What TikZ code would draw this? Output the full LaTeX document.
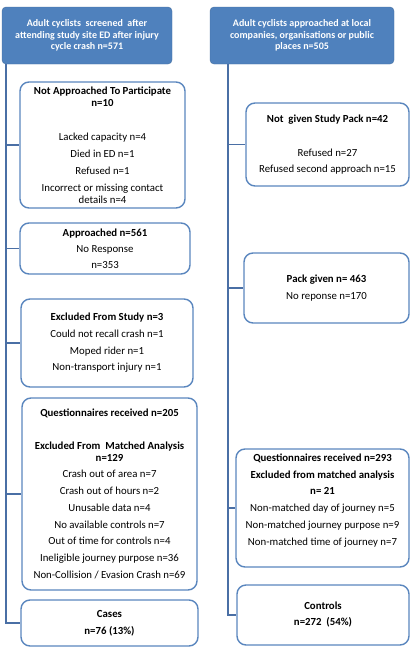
\documentclass[tikz,border=0pt]{standalone}
\usepackage{fontspec}
\setmainfont{Carlito}
\usepackage{xcolor}
\usepackage{tikz}
\usetikzlibrary{positioning,calc}
\definecolor{cHead}{HTML}{4F81BD}
\definecolor{cHeadEdge}{HTML}{46709F}
\definecolor{cEdge}{HTML}{5A86BE}
\definecolor{cLine}{HTML}{4A6FA5}
\tikzset{
  x=1pt, y=-1pt,
  head/.style ={rectangle, rounded corners=4pt, draw=cHeadEdge, fill=cHead,
                text=white, align=center, inner sep=0pt,
                font=\fontsize{10}{11.5}\selectfont\bfseries},
  box/.style  ={rectangle, rounded corners=9pt, draw=cEdge, line width=1.4pt,
                fill=white, align=center, inner sep=0pt,
                font=\fontsize{10.8}{12}\selectfont},
  fl/.style   ={draw=cLine, line width=1.4pt},
}

\begin{document}
\begin{tikzpicture}
  \useasboundingbox (0,0) rectangle (412,651);
  % headers
  \node[head, minimum width=170pt, minimum height=57pt] (screen) at (87,35.5)
    {Adult cyclists\ \ screened\ \ after\\attending study site ED after injury\\cycle crash n=571};
  \node[head, minimum width=184pt, minimum height=57pt] (appr) at (302,35.5)
    {Adult cyclists approached at local\\companies, organisations or public\\places n=505};

  % cases column
  \node[box, minimum width=165pt, minimum height=126pt] (notapp) at (102.5,145)
    {\textbf{Not Approached To Participate}\\\textbf{n=10}\\[22pt]
     Lacked capacity n=4\\[4.5pt]Died in ED n=1\\[5pt]Refused n=1\\[5pt]
     Incorrect or missing contact\\details n=4};
  \node[box, minimum width=170pt, minimum height=51pt] (approached) at (105,248.5)
    {\textbf{Approached n=561}\\[4pt]No Response\\[4pt]n=353};
  \node[box, minimum width=172pt, minimum height=88pt] (exstudy) at (107,343)
    {\textbf{Excluded From Study n=3}\\[4.7pt]Could not recall crash n=1\\[4.7pt]
     Moped rider n=1\\[4.7pt]Non-transport injury n=1};
  \node[box, minimum width=175pt, minimum height=192pt] (qcase) at (109.5,494)
    {\textbf{Questionnaires received n=205}\\[21pt]
     \textbf{Excluded From\ \ Matched Analysis}\\\textbf{n=129}\\[4pt]
     Crash out of area n=7\\[4.7pt]Crash out of hours n=2\\[4.7pt]
     Unusable data n=4\\[4.7pt]No available controls n=7\\[4.7pt]
     Out of time for controls n=4\\[4.7pt]Ineligible journey purpose n=36\\[4.7pt]
     Non-Collision / Evasion Crash n=69};
  \node[box, minimum width=177pt, minimum height=46pt] (cases) at (109.5,623)
    {\textbf{Cases}\\[5pt]\textbf{n=76 (13\%)}};

  % controls column
  \node[box, minimum width=163pt, minimum height=83pt] (nopack) at (327.5,144.5)
    {\textbf{Not\ \ given Study Pack n=42}\\[22pt]Refused n=27\\[4pt]
     Refused second approach n=15};
  \node[box, minimum width=165pt, minimum height=70pt] (pack) at (326.5,288)
    {\textbf{Pack given n= 463}\\[5pt]No reponse n=170};
  \node[box, minimum width=173pt, minimum height=118pt] (qctrl) at (322.5,508)
    {\textbf{Questionnaires received n=293}\\[4.7pt]
     \textbf{Excluded from matched analysis}\\[4.7pt]\textbf{n= 21}\\[4.7pt]
     Non-matched day of journey n=5\\[4.7pt]Non-matched journey purpose n=9\\[4.7pt]
     Non-matched time of journey n=7\\[5pt]\mbox{}};
  \node[box, minimum width=172pt, minimum height=60pt] (controls) at (323,615)
    {\textbf{Controls}\\[4pt]\textbf{n=272\ \ (54\%)}};

  % spines
  \coordinate (lspine) at (6,0);
  \coordinate (rspine) at (228,0);
  \draw[fl] (screen.south -| lspine) |- (cases.west);
  \foreach \b in {notapp,approached,exstudy,qcase}
    \draw[fl] (lspine |- \b.west) -- (\b.west);
  \draw[fl] (appr.south -| rspine) |- (controls.west);
  \foreach \b in {nopack,pack,qctrl}
    \draw[fl] (rspine |- \b.west) -- (\b.west);
\end{tikzpicture}
\end{document}
